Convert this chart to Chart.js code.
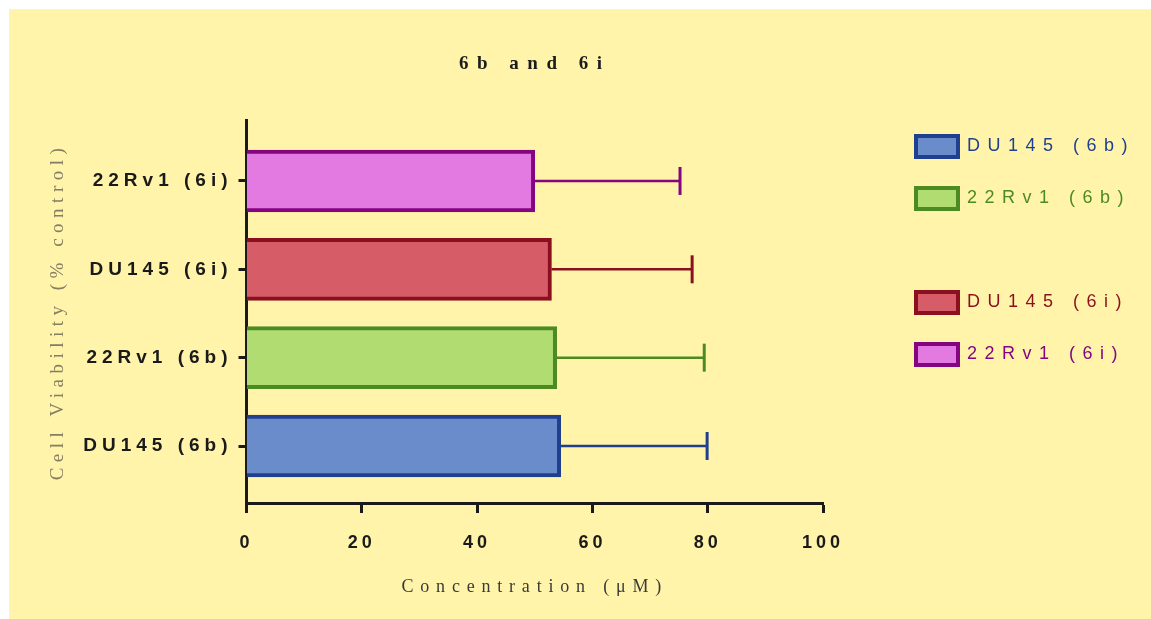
<!DOCTYPE html>
<html>
<head>
<meta charset="utf-8">
<script src="https://cdn.jsdelivr.net/npm/chart.js@4.4.1/dist/chart.umd.min.js"></script>
<style>
  html, body { margin: 0; background: #fff; }
  #frame { position: absolute; left: 9px; top: 9px; width: 1142px; height: 610px; background: #fff4aa; }
</style>
</head>
<body>
<div id="frame"><canvas id="chart" width="1142" height="610"></canvas></div>
<script>
// data (bottom bar first)
const CATEGORIES = ['DU145 (6b)', '22Rv1 (6b)', 'DU145 (6i)', '22Rv1 (6i)'];
const MEANS = [54.5, 53.8, 52.9, 50.0];
const ERRORS = [25.4, 25.6, 24.4, 25.2];
const X_TICKS = [0, 20, 40, 60, 80, 100];

const FILLS = ['#6b8ccb', '#b1dc72', '#d65c67', '#e27ae2'];
const BORDERS = ['#1f3f8f', '#4b8b22', '#8b0f1f', '#84057f'];

const SANS = "'Liberation Sans', Arial, sans-serif";
const SERIF = "'Liberation Serif', 'Times New Roman', serif";

// the original figure uses wide letter spacing, Chart.js has no option for it
function spacingFor(font) {
    if (font.includes('Liberation Serif')) {
        if (font.includes('bold')) return 8.5;      // title
        return font.includes('19px') ? 5.5 : 6.8;   // y / x axis titles
    }
    if (font.includes('bold')) {
        return font.includes('19px') ? 5 : 4;       // y / x tick labels
    }
    return 7.5;                                     // legend
}

const letterSpacing = {
    id: 'letterSpacing',
    beforeInit(chart) {
        const ctx = chart.ctx;
        const fillText = ctx.fillText;
        const measureText = ctx.measureText;
        ctx.fillText = function (text, x, y, maxWidth) {
            ctx.save();
            ctx.letterSpacing = spacingFor(ctx.font) + 'px';
            if (maxWidth === undefined) fillText.call(ctx, text, x, y);
            else fillText.call(ctx, text, x, y, maxWidth);
            ctx.restore();
        };
        ctx.measureText = function (text) {
            ctx.save();
            ctx.letterSpacing = spacingFor(ctx.font) + 'px';
            const m = measureText.call(ctx, text);
            ctx.restore();
            return m;
        };
    }
};

const errorBars = {
    id: 'errorBars',
    afterDatasetsDraw(chart) {
        const { ctx, scales: { x } } = chart;
        const bars = chart.getDatasetMeta(0).data;
        ctx.save();
        bars.forEach((bar, i) => {
            const end = x.getPixelForValue(MEANS[i] + ERRORS[i]);
            ctx.strokeStyle = BORDERS[i];
            ctx.lineWidth = 2.5;
            ctx.beginPath();
            ctx.moveTo(bar.x, bar.y);
            ctx.lineTo(end, bar.y);
            ctx.stroke();
            ctx.lineWidth = 3;
            ctx.beginPath();
            ctx.moveTo(end, bar.y - 14);
            ctx.lineTo(end, bar.y + 14);
            ctx.stroke();
        });
        ctx.restore();
    }
};

Chart.defaults.font.family = SANS;

new Chart(document.getElementById('chart'), {
    type: 'bar',
    data: {
        datasets: [{
            data: MEANS.map((v, i) => ({ x: v, y: i })),
            backgroundColor: FILLS,
            borderColor: BORDERS,
            borderWidth: 4,
            borderSkipped: 'start',
            barThickness: 62
        }]
    },
    options: {
        indexAxis: 'y',
        responsive: false,
        animation: false,
        devicePixelRatio: 1,
        layout: { padding: { left: 0, right: 16, top: 0, bottom: 0 } },
        plugins: {
            tooltip: { enabled: false },
            title: {
                display: true,
                text: '6b and 6i',
                fullSize: false,
                color: '#1c1c1c',
                font: { family: SERIF, size: 19, weight: 'bold' },
                padding: { top: 43.2, bottom: 45 }
            },
            legend: {
                position: 'right',
                align: 'start',
                maxWidth: 250,
                onClick: () => {},
                title: { display: true, text: '', font: { size: 10, lineHeight: 1 }, padding: { top: 86, bottom: 0 } },
                labels: {
                    font: { family: SANS, size: 18 },
                    boxWidth: 42,
                    boxHeight: 21,
                    padding: 31,
                    generateLabels: () => {
                        const items = CATEGORIES.map((text, i) => ({
                            text,
                            fillStyle: FILLS[i],
                            strokeStyle: BORDERS[i],
                            fontColor: BORDERS[i],
                            lineWidth: 4,
                            hidden: false,
                            index: i
                        }));
                        // empty row between the 6b and 6i groups
                        items.splice(2, 0, { text: '', fillStyle: 'rgba(0,0,0,0)', strokeStyle: 'rgba(0,0,0,0)', lineWidth: 0, hidden: false });
                        return items;
                    }
                }
            }
        },
        scales: {
            x: {
                type: 'linear',
                min: 0,
                max: 100,
                afterBuildTicks: (s) => { s.ticks = X_TICKS.map(v => ({ value: v })); },
                afterFit: (s) => { s.height = 116; },
                grid: { drawOnChartArea: false, drawTicks: true, tickLength: 10, tickWidth: 3, tickColor: '#1a1a1a' },
                border: { display: true, color: '#1a1a1a', width: 3 },
                ticks: { color: '#1a1a1a', padding: 19, font: { size: 18, weight: 'bold' } },
                title: {
                    display: true,
                    text: 'Concentration (μM)',
                    color: '#3a3a3a',
                    font: { family: SERIF, size: 18 },
                    padding: { top: 0, bottom: 21.2 }
                }
            },
            y: {
                type: 'linear',
                min: -0.645,
                max: 3.69,
                offset: false,
                afterBuildTicks: (s) => { s.ticks = CATEGORIES.map((c, i) => ({ value: i })); },
                afterFit: (s) => { s.width = 237.5; },
                grid: { offset: false, drawOnChartArea: false, drawTicks: true, tickLength: 8, tickWidth: 3, tickColor: '#1a1a1a' },
                border: { display: true, color: '#1a1a1a', width: 3 },
                ticks: {
                    color: '#1a1a1a',
                    padding: 6,
                    font: { size: 19, weight: 'bold' },
                    callback: (v) => CATEGORIES[v]
                },
                title: {
                    display: true,
                    text: 'Cell Viability (% control)',
                    color: '#857e63',
                    font: { family: SERIF, size: 19 },
                    padding: { top: 37.6, bottom: 0 }
                }
            },
            // keeps the gap between the plot and the legend
            spacer: {
                type: 'linear',
                position: 'right',
                grid: { display: false },
                border: { display: false },
                ticks: { display: false },
                afterFit: (s) => { s.width = 62; }
            }
        }
    },
    plugins: [letterSpacing, errorBars]
});
</script>
</body>
</html>
